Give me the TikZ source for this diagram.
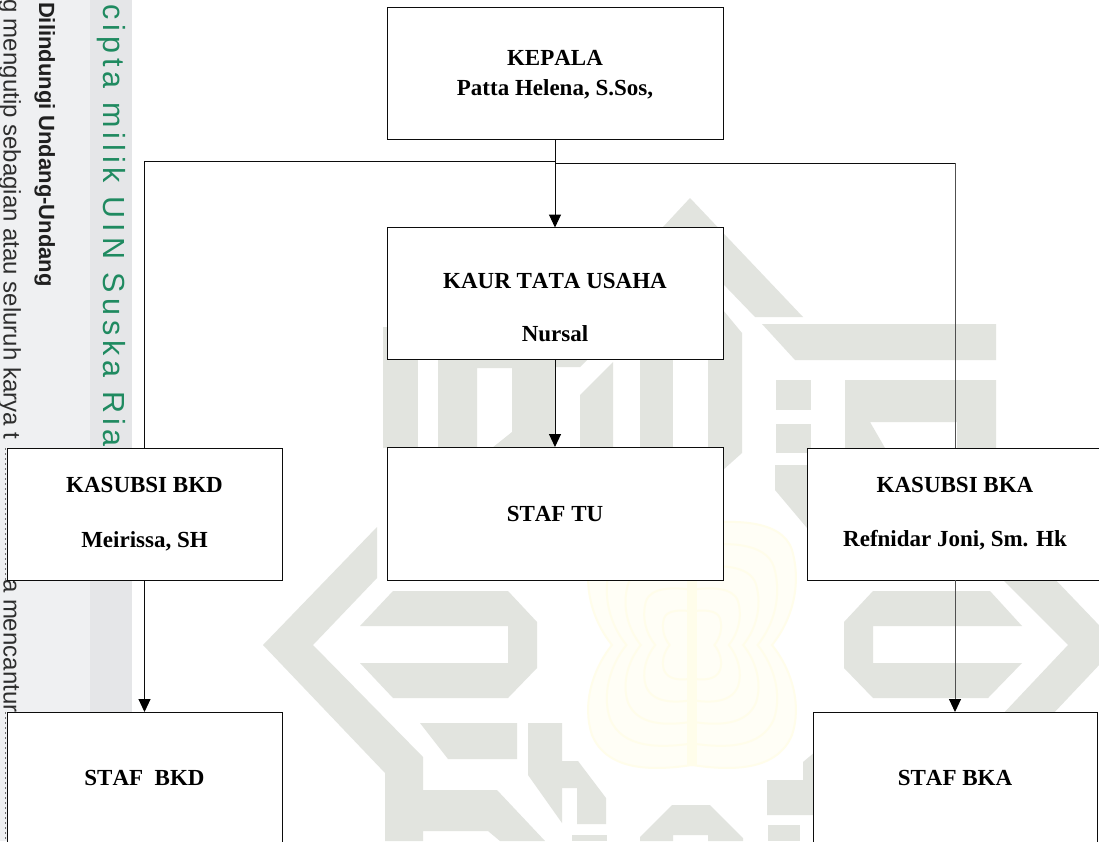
\documentclass[tikz,border=0pt]{standalone}
\usepackage{fontspec}
\usetikzlibrary{arrows.meta}
\setmainfont[Kerning=Off]{Liberation Serif}
\newfontfamily\sidefont{Liberation Sans}
\newfontfamily\greenfont[LetterSpace=16.5]{Liberation Sans}
\definecolor{markgrey}{HTML}{E2E4DF}
\definecolor{stripeA}{HTML}{EFF0F2}
\definecolor{stripeB}{HTML}{E5E6E8}
\definecolor{flowerA}{HTML}{FFFEF6}
\definecolor{flowerB}{HTML}{FFFDEA}
\definecolor{ripgreen}{HTML}{1F8A60}
\definecolor{inkline}{HTML}{0C0C0C}
\definecolor{midline}{HTML}{505050}
\tikzset{
  orgbox/.style={draw=inkline,line width=1pt,fill=white,inner sep=0pt,outer sep=0pt,
    align=center,font=\fontsize{23}{30}\selectfont\bfseries,text=black},
  boxtext/.style={inner sep=0pt,outer sep=0pt,align=center,
    font=\fontsize{23}{30}\selectfont\bfseries,text=black},
  link/.style={draw=inkline,line width=1pt},
  graylink/.style={draw=midline,line width=1pt},
  arrowlink/.style={-{Triangle[width=12pt,length=13pt,color=black,fill=black]}},
  sidetext/.style={rotate=-90,anchor=base west,inner sep=0pt,outer sep=0pt},
  wmark/.style={fill=markgrey,draw=none}
}
\newcommand{\lobepath}{(0,120) .. controls (40,126) and (85,126) .. (100,90) .. controls (110,60) and (100,25) .. (80,0) .. controls (100,-25) and (110,-60) .. (100,-95) .. controls (90,-126) and (40,-126) .. (0,-120)}
\begin{document}
\begin{tikzpicture}[x=1pt,y=-1pt]
\useasboundingbox (0,0) rectangle (1099,841);
\clip (0,0) rectangle (1099,841);
% page background
\fill[white] (0,0) rectangle (1099,841);
\fill[stripeA] (0,0) rectangle (90,841);
\fill[stripeB] (90,0) rectangle (132,841);
% flower watermark
\foreach \sx in {1,-1}{
  \begin{scope}[shift={(692,645)},xscale=\sx]
    \fill[flowerA] \lobepath -- cycle;
    \foreach \s in {1,.82,.64,.46,.28}{
      \draw[flowerB,line width=2pt,scale=\s] \lobepath;
    }
  \end{scope}
}
\fill[flowerB] (687,530) rectangle (697,765);
% grey watermark
\fill[wmark] (690,198) -- (803,317) -- (755,317) -- (700,260) -- (660,260) -- (663,227) -- cycle;
\fill[wmark] (762,324) -- (996,324) -- (996,360) -- (795,360) -- cycle;
\fill[wmark] (383,327) rectangle (418,448);
\fill[wmark] (438,345) -- (590,345) -- (587,360) -- (580,367) -- (555,367) -- (555,448) -- (492,448) -- (512,432) -- (512,368) -- (477,368) -- (477,448) -- (438,448) -- cycle;
\fill[wmark] (580,395) -- (613,362) -- (613,448) -- (580,448) -- cycle;
\fill[wmark] (640,350) rectangle (673,448);
\fill[wmark] (708,300) -- (723,310) -- (742,333) -- (742,453) -- (723,470) -- (708,470) -- cycle;
\fill[wmark] (776,380) rectangle (811,410);
\fill[wmark] (776,424) rectangle (811,453);
\fill[wmark] (775,465) -- (811,465) -- (811,532) -- (807,528) -- (775,490) -- cycle;
\fill[wmark] (845,380) -- (996,380) -- (996,448) -- (957,448) -- (957,422) -- (870,422) -- (885,448) -- (845,448) -- cycle;
% chevrons
\fill[wmark] (263,645) -- (377,527) -- (377,578) -- (313,645) -- (423,757) -- (423,790) -- (497,790) -- (545,841) -- (500,841) -- (488,831) -- (423,831) -- (423,841) -- (385,841) -- (385,773) -- cycle;
\fill[wmark] (1005,527) -- (1118,645) -- (1000,770) -- (950,770) -- (1068,645) -- (950,527) -- cycle;
% eyes
\fill[wmark] (360,626) -- (393,591) -- (508,591) -- (537,622) -- (537,668) -- (508,698) -- (393,698) -- (360,663) -- (508,663) -- (508,626) -- cycle;
\fill[wmark] (1022,626) -- (990,591) -- (873,591) -- (844,622) -- (844,668) -- (873,698) -- (988,698) -- (1022,663) -- (873,663) -- (873,626) -- cycle;
% lower letters
\fill[wmark] (420,723) -- (517,723) -- (517,759) -- (448,759) -- cycle;
\fill[wmark] (528,723) -- (562,723) -- (562,761) -- (578,761) -- (606,798) -- (606,824) -- (577,824) -- (577,788) -- (562,788) -- (562,823) -- (528,775) -- cycle;
\fill[wmark] (572,835) rectangle (607,841);
\fill[wmark] (640,841) -- (640,837) -- (672,805) -- (710,805) -- (743,838) -- (743,841) -- (708,841) -- (708,835) -- (673,835) -- (673,841) -- cycle;
\fill[wmark] (767,780) -- (803,780) -- (803,762) -- (815,752) -- (815,815) -- (767,815) -- cycle;
\fill[wmark] (768,825) rectangle (800,841);
% side texts
\node[sidetext,font=\sidefont\fontsize{24}{24}\selectfont,text=black!82] (sideA) at (3.5,-1) {g mengutip sebagian atau seluruh karya t};
\node[sidetext,font=\sidefont\fontsize{24}{24}\selectfont,text=black!82] (sideB) at (3.5,579) {a mencantur};
\node[sidetext,font=\sidefont\bfseries\fontsize{22}{24}\selectfont,text=black!88] (sideC) at (39,2) {Dilindungi Undang-Undang};
\node[sidetext,font=\greenfont\fontsize{30.5}{30}\selectfont,text=ripgreen] (sideD) at (103,4) {cipta milik UIN Suska Ria};
\draw[black!55,line width=1.5pt,dash pattern=on 2pt off 3pt] (5.6,448) -- (5.6,580);
\draw[black!55,line width=1.5pt,dash pattern=on 2pt off 3pt] (5.6,712) -- (5.6,841);
% boxes
\coordinate (hubL) at (555,161.6);
\coordinate (hubR) at (555.5,163.2);
\node[orgbox,minimum width=336pt,minimum height=132pt] (kepala) at (555,73) {};
\node[boxtext] (kepalatext) at (555,75) {KEPALA\\Patta Helena, S.Sos,};
\node[orgbox,minimum width=336pt,minimum height=132pt] (kaur) at (555,293.5) {};
\node[boxtext] (kaurtext) at (555,307.5) {KAUR TATA USAHA\\[23pt]Nursal};
\node[orgbox,minimum width=336pt,minimum height=133pt] (stafTU) at (555,513.5) {STAF TU};
\node[orgbox,minimum width=275pt,minimum height=132pt] (kasubsiD) at (144.5,514) {KASUBSI BKD\\[25pt]Meirissa, SH};
\node[orgbox,minimum width=295pt,minimum height=132pt] (kasubsiA) at (955,514) {KASUBSI BKA\\[24pt]Refnidar Joni, Sm. Hk};
\node[orgbox,minimum width=275pt,minimum height=132pt] (stafD) at (144.5,778) {STAF\hspace{.25em} BKD};
\node[orgbox,minimum width=284pt,minimum height=132pt] (stafA) at (955,778) {STAF BKA};
% connectors
\draw[link,arrowlink] (kepala.south) -- (kaur.north);
\draw[link,arrowlink] (kaur.south) -- (stafTU.north);
\draw[link] (hubL) -| (kasubsiD.north);
\draw[graylink] (hubR) -| (kasubsiA.north);
\draw[link] (hubR) -- (hubR -| kasubsiA.north);
\draw[link,arrowlink] (kasubsiD.south) -- (stafD.north);
\draw[graylink,arrowlink] (kasubsiA.south) -- (stafA.north);
\end{tikzpicture}
\end{document}
